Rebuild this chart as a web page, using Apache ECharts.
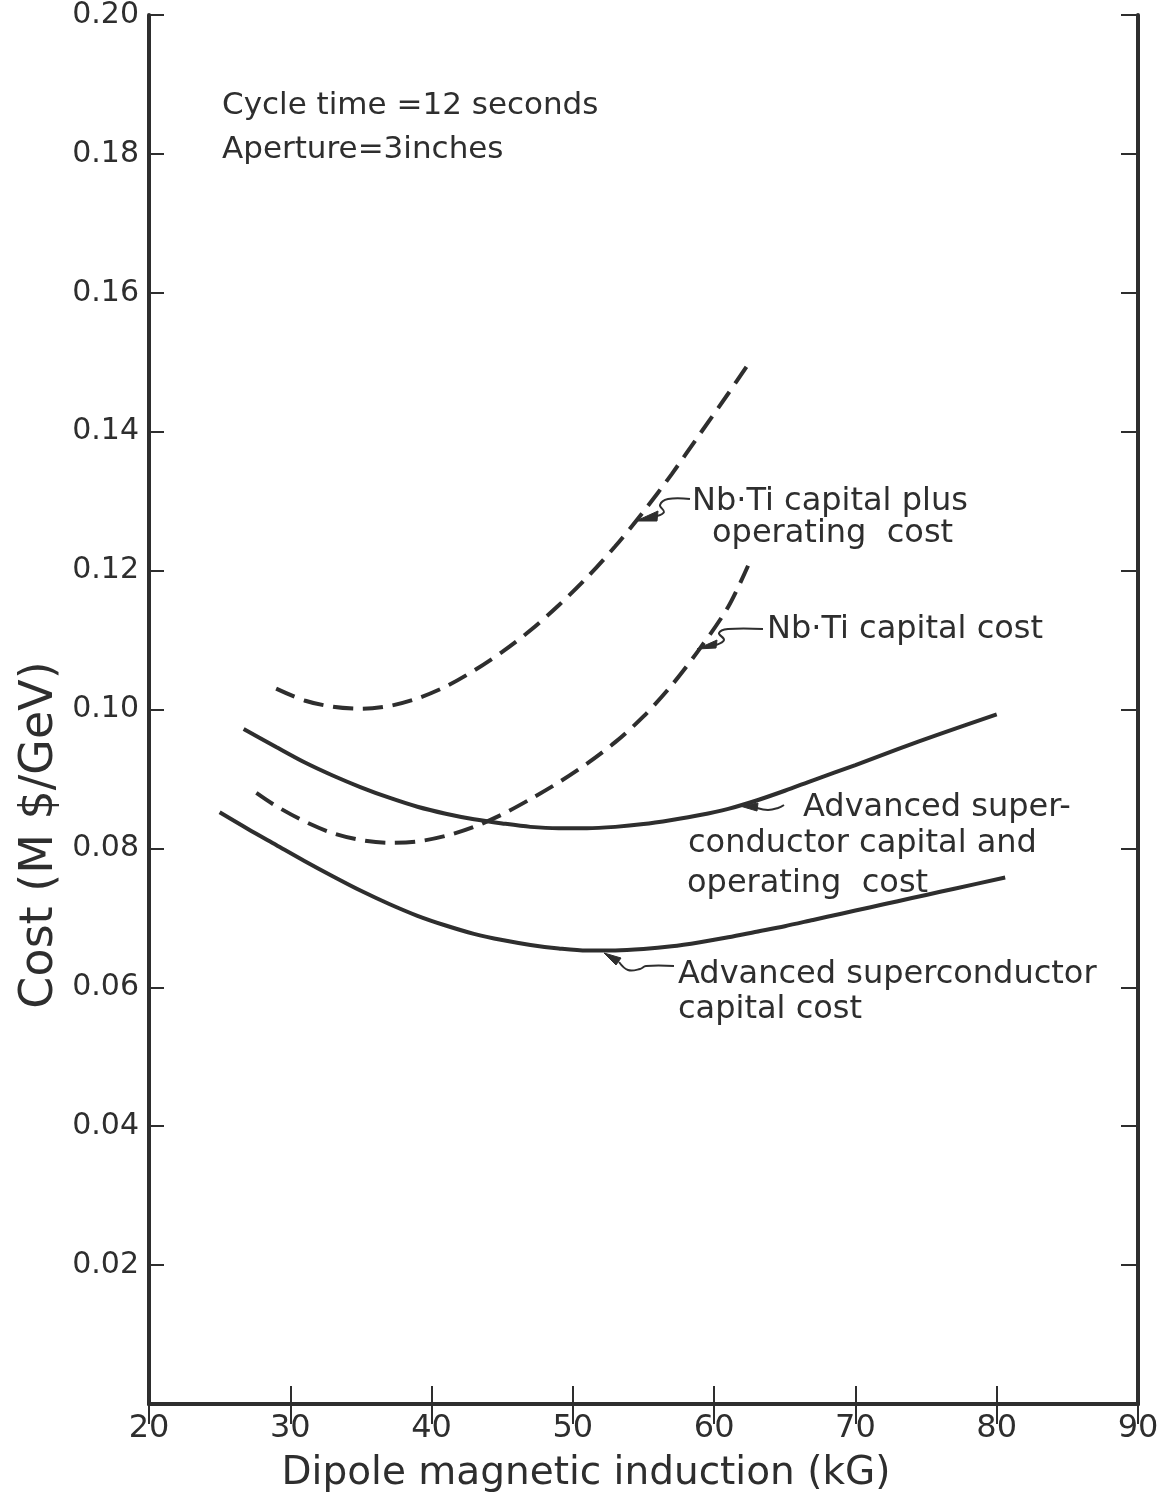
<!DOCTYPE html>
<html>
<head>
<meta charset="utf-8">
<script src="https://cdn.jsdelivr.net/npm/echarts@6/dist/echarts.min.js"></script>
<style>
  html, body { margin: 0; padding: 0; background: #ffffff; }
  #chart { width: 1173px; height: 1506px; }
</style>
</head>
<body>
<div id="chart"></div>
<script>
// ---- Data ----
const xTickValues = [20, 30, 40, 50, 60, 70, 80, 90];
const yTickLabels = ['', '0.02', '0.04', '0.06', '0.08', '0.10', '0.12', '0.14', '0.16', '0.18', '0.20'];

// Nb-Ti capital plus operating cost (dashed, upper)
const nbtiCapitalPlusOperating = [
  [29, 0.1030], [31, 0.1013], [33, 0.1004], [35, 0.1001], [37, 0.1005],
  [39, 0.1016], [41, 0.1033], [43, 0.1056], [45, 0.1083], [47, 0.1114],
  [49, 0.1150], [51, 0.1190], [53, 0.1235], [55, 0.1285], [57, 0.1339],
  [59, 0.1397], [61, 0.1455], [62.4, 0.1497]
];
// Nb-Ti capital cost (dashed, lower)
const nbtiCapital = [
  [27.6, 0.0880], [29, 0.0861], [31, 0.0839], [33, 0.0822], [35, 0.0812],
  [37, 0.0808], [39, 0.0810], [41, 0.0818], [43, 0.0831], [45, 0.0849],
  [47, 0.0871], [49, 0.0895], [51, 0.0922], [53, 0.0953], [55, 0.0990],
  [57, 0.1035], [59, 0.1088], [61, 0.1148], [62.4, 0.1207]
];
// Advanced superconductor capital and operating cost (solid, upper)
const advCapitalAndOperating = [
  [26.7, 0.0972], [29, 0.0946], [31, 0.0924], [33, 0.0905], [35, 0.0888],
  [37, 0.0873], [39, 0.0860], [41, 0.0850], [43, 0.0842], [45, 0.0836],
  [47, 0.0831], [49, 0.0829], [51, 0.0829], [53, 0.0831], [55, 0.0835],
  [57, 0.0841], [59, 0.0848], [61, 0.0857], [63, 0.0869], [65, 0.0883],
  [67, 0.0898], [70, 0.0920], [73, 0.0943], [76, 0.0965], [80, 0.0993]
];
// Advanced superconductor capital cost (solid, lower)
const advCapital = [
  [25, 0.0852], [27, 0.0828], [29, 0.0805], [31, 0.0782], [33, 0.0760],
  [35, 0.0739], [37, 0.0720], [39, 0.0703], [41, 0.0689], [43, 0.0677],
  [45, 0.0668], [47, 0.0661], [49, 0.0656], [51, 0.0653], [53, 0.0653],
  [55, 0.0655], [57, 0.0659], [59, 0.0665], [61, 0.0672], [63, 0.0680],
  [65, 0.0688], [67, 0.0697], [69, 0.0706], [71, 0.0715], [73, 0.0724],
  [75, 0.0733], [77, 0.0742], [80.6, 0.0758]
];

// ---- Style ----
const INK = '#2e2e2e';
const FONT = "'DejaVu Sans', 'Liberation Sans', sans-serif";

const chart = echarts.init(document.getElementById('chart'), null, { renderer: 'canvas' });

function axisCommon(tickLen) {
  return {
    axisLine: { show: true, lineStyle: { color: INK, width: 4 } },
    axisTick: { show: true, inside: true, length: tickLen, lineStyle: { color: INK, width: 2 } },
    splitLine: { show: false },
    axisLabel: { show: false }
  };
}

function txt(text, x, y, size, align) {
  return {
    type: 'text', x: x, y: y, silent: true,
    style: {
      text: text, fill: INK, font: size + 'px ' + FONT,
      textAlign: align || 'left', textVerticalAlign: 'middle',
      align: align || 'left', verticalAlign: 'middle'
    }
  };
}
function leader(points) {
  return { type: 'polyline', silent: true, shape: { points: points, smooth: 0.4 },
           style: { stroke: INK, lineWidth: 2, fill: null } };
}
function head(points) {
  return { type: 'polygon', silent: true, shape: { points: points },
           style: { fill: INK, stroke: INK, lineWidth: 1 } };
}

const option = {
  backgroundColor: '#ffffff',
  animation: false,
  grid: { left: 149, right: 35, top: 15, bottom: 102, containLabel: false },
  xAxis: [
    Object.assign(axisCommon(18), {
      type: 'value', position: 'bottom', min: 20, max: 90, interval: 10,
      axisLabel: { show: true, color: INK, fontFamily: FONT, fontSize: 32, margin: 9,
                   formatter: v => (xTickValues.indexOf(v) >= 0 ? String(v) : '') }
    }),
    Object.assign(axisCommon(20), {
      type: 'value', position: 'top', min: 20, max: 90, interval: 10
    })
  ],
  yAxis: [
    Object.assign(axisCommon(15), {
      type: 'value', position: 'left', min: 0, max: 0.2, interval: 0.02,
      axisLabel: { show: true, color: INK, fontFamily: FONT, fontSize: 30, margin: 10,
                   formatter: v => yTickLabels[Math.round(v / 0.02)] || '' }
    }),
    Object.assign(axisCommon(17), {
      type: 'value', position: 'right', min: 0, max: 0.2, interval: 0.02
    })
  ],
  series: [
    { name: 'Nb-Ti capital plus operating cost', type: 'line', data: nbtiCapitalPlusOperating,
      smooth: 0.3, showSymbol: false, symbol: 'none',
      lineStyle: { color: INK, width: 4, type: [20, 10] } },
    { name: 'Nb-Ti capital cost', type: 'line', data: nbtiCapital,
      smooth: 0.3, showSymbol: false, symbol: 'none',
      lineStyle: { color: INK, width: 4, type: [20, 10] } },
    { name: 'Advanced superconductor capital and operating cost', type: 'line', data: advCapitalAndOperating,
      smooth: 0.3, showSymbol: false, symbol: 'none',
      lineStyle: { color: INK, width: 4 } },
    { name: 'Advanced superconductor capital cost', type: 'line', data: advCapital,
      smooth: 0.3, showSymbol: false, symbol: 'none',
      lineStyle: { color: INK, width: 4 } }
  ],
  graphic: [
    // Conditions note
    txt('Cycle time =12 seconds', 222, 106, 31),
    txt('Aperture=3inches', 222, 150, 31),
    // Axis titles
    txt('Dipole magnetic induction (kG)', 586, 1474, 39, 'center'),
    {
      type: 'text', silent: true, x: 40, y: 835, rotation: Math.PI / 2,
      style: { text: 'Cost (M $/GeV)', fill: INK, font: '46px ' + FONT,
               textAlign: 'center', textVerticalAlign: 'middle', align: 'center', verticalAlign: 'middle' }
    },
    // Annotations
    txt('Nb·Ti capital plus', 692, 502, 32),
    txt('operating  cost', 712, 534, 32),
    head([[636, 521], [658, 511], [657, 521]]),
    leader([[657, 516], [664, 512], [660, 505], [668, 499], [690, 499]]),

    txt('Nb·Ti capital cost', 767, 630, 32),
    head([[697, 649], [717, 640], [716, 648]]),
    leader([[716, 645], [724, 640], [719, 633], [728, 629], [763, 629]]),

    txt('Advanced super-', 803, 808, 32),
    txt('conductor capital and', 688, 844, 32),
    txt('operating  cost', 687, 884, 32),
    head([[740, 806], [758, 803], [757, 811]]),
    leader([[757, 808], [768, 810], [778, 808], [784, 805]]),

    txt('Advanced superconductor', 678, 975, 32),
    txt('capital cost', 678, 1010, 32),
    head([[604, 953], [621, 958], [616, 965]]),
    leader([[619, 962], [628, 970], [640, 969], [646, 966], [674, 966]])
  ]
};

chart.setOption(option);
</script>
</body>
</html>
